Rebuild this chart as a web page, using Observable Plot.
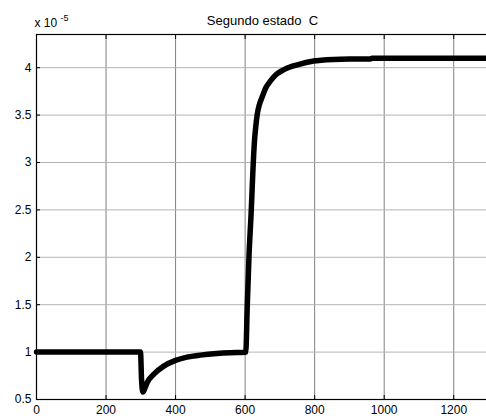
<!DOCTYPE html>
<html><head><meta charset="utf-8">
<script src="https://cdn.jsdelivr.net/npm/d3@7"></script>
<script src="https://cdn.jsdelivr.net/npm/@observablehq/plot@0.6"></script>
<style>body{margin:0;background:#fff;overflow:hidden} svg{overflow:hidden}</style>
</head><body><div id="chart"></div>
<script>
const timeSteps = [0, 299, 300, 302, 306, 312, 318, 337, 366, 400, 433, 471, 519, 557, 600, 602, 606, 611, 618, 622, 627, 631, 635, 641, 649, 660, 673, 690, 712, 750, 797, 875, 960, 965, 1300];
const stateC   = [1.0, 1.0, 0.95, 0.72, 0.58, 0.62, 0.676, 0.765, 0.852, 0.912, 0.947, 0.968, 0.985, 0.993, 0.998, 1.0, 1.47, 2.0, 2.52, 2.88, 3.23, 3.39, 3.51, 3.61, 3.69, 3.79, 3.86, 3.93, 3.98, 4.03, 4.07, 4.09, 4.092, 4.1, 4.1];
const xTicks = [0, 200, 400, 600, 800, 1000, 1200];
const yTicks = [0.5, 1, 1.5, 2, 2.5, 3, 3.5, 4];
const titleText = "Segundo estado  C";
const multBase = "x 10";
const multExp = "-5";

const data = timeSteps.map((t, i) => ({t, c: stateC[i]}));

const chart = Plot.plot({
  width: 486, height: 416,
  marginLeft: 36, marginRight: -2, marginTop: 34, marginBottom: 17,
  style: {fontFamily: "'Liberation Sans', Arial, sans-serif", fontSize: "12px", background: "#fff", color: "#000"},
  x: {domain: [0, 1300], label: null},
  y: {domain: [0.5, 4.35], label: null},
  marks: [
    Plot.gridX(xTicks, {stroke: "#808080", strokeOpacity: 1}),
    Plot.gridY(yTicks, {stroke: "#b4b4b4", strokeOpacity: 1}),
    Plot.line(data, {x: "t", y: "c", stroke: "black", strokeWidth: 5.5, strokeLinejoin: "round", curve: "monotone-x"}),
    Plot.axisX(xTicks, {anchor: "bottom", tickSize: 0, tickPadding: 6, label: null, fontSize: 12, tickFormat: d => String(d)}),
    Plot.axisX(xTicks, {anchor: "bottom", tickSize: -4, text: null, label: null}),
    Plot.axisX(xTicks, {anchor: "top", tickSize: -4, text: null, label: null}),
    Plot.axisY(yTicks, {anchor: "left", tickSize: 0, tickPadding: 5, label: null, fontSize: 12, tickFormat: d => String(d)}),
    Plot.axisY(yTicks, {anchor: "left", tickSize: -4, text: null, label: null}),
    Plot.frame({stroke: "black", strokeWidth: 1.2}),
    Plot.text([titleText], {text: d => d, frameAnchor: "top", lineAnchor: "bottom", dy: -10, fontSize: 13}),
    Plot.text([multBase], {text: d => d, frameAnchor: "top-left", textAnchor: "start", lineAnchor: "bottom", dx: -2, dy: -8, fontSize: 12}),
    Plot.text([multExp], {text: d => d, frameAnchor: "top-left", textAnchor: "start", lineAnchor: "bottom", dx: 24, dy: -14, fontSize: 9})
  ]
});
document.getElementById("chart").appendChild(chart);
</script>
</body></html>
